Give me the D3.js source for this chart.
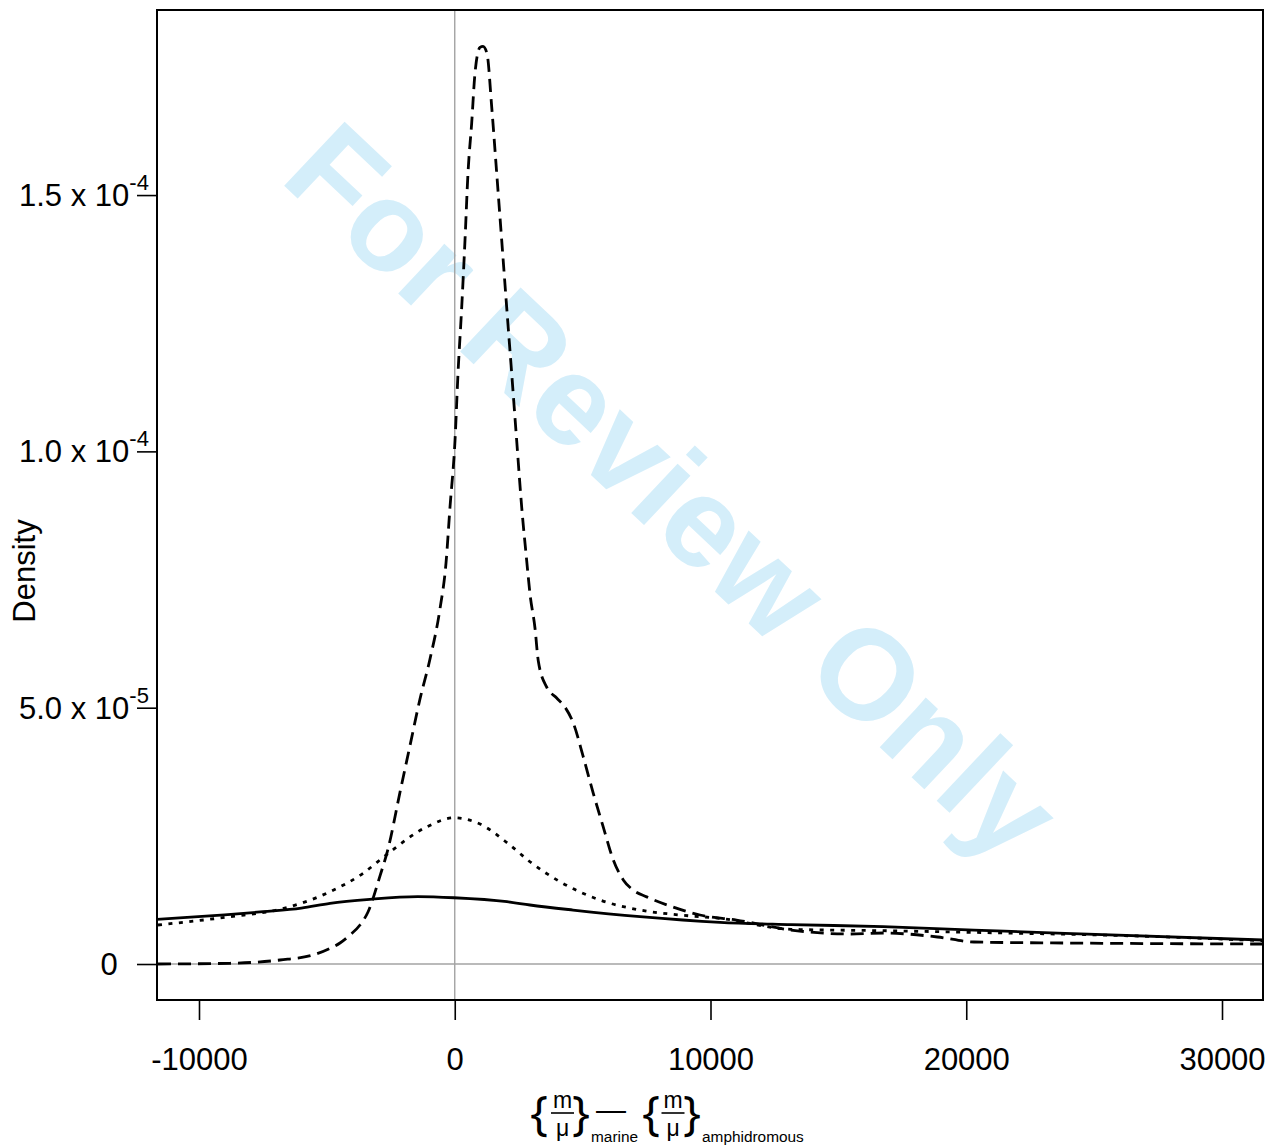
<!DOCTYPE html>
<html>
<head>
<meta charset="utf-8">
<script src="https://cdn.jsdelivr.net/npm/d3@7"></script>
<style>
  html, body { margin: 0; padding: 0; background: #fff; }
  svg { display: block; }
</style>
</head>
<body>
<svg id="chart" width="1268" height="1147"></svg>
<script>
// ---- data -------------------------------------------------------------
const xTicks = [-10000, 0, 10000, 20000, 30000];
const xTickLabels = ["-10000", "0", "10000", "20000", "30000"];
const yTicks = [0, 5e-5, 1e-4, 1.5e-4];
const yTickMantissa = ["0", "5.0 x 10", "1.0 x 10", "1.5 x 10"];
const yTickExponent = ["", "-5", "-4", "-4"];

// solid density curve
const solidX = [-11642, -9000, -7497, -6000, -4878, -3314, -1450, -29, 2043, 2942, 4624, 7243, 10371, 13148, 16745, 20303, 23861, 31603];
const solidDensity = [8.72e-6, 9.6e-6, 10.2e-6, 10.9e-6, 11.84e-6, 12.62e-6, 13.15e-6, 12.93e-6, 12.15e-6, 11.51e-6, 10.53e-6, 9.23e-6, 8.13e-6, 7.70e-6, 7.28e-6, 6.63e-6, 5.99e-6, 4.68e-6];

// dotted density curve
const dottedX = [-11603, -8788, -6833, -4878, -3588, -2650, -1085, -29, 987, 2160, 2942, 4115, 5679, 7243, 8807, 10371, 13148, 16745, 21006, 26716, 31603];
const dottedDensity = [7.61e-6, 9.23e-6, 10.67e-6, 14.1e-6, 17.69e-6, 21.4e-6, 26.78e-6, 28.54e-6, 27.3e-6, 23.2e-6, 19.95e-6, 16.05e-6, 12.48e-6, 10.53e-6, 9.56e-6, 8.91e-6, 6.77e-6, 6.5e-6, 6.1e-6, 5.46e-6, 4.54e-6];

// dashed density curve
const dashedX = [-11603, -8788, -6833, -5542, -4878, -4487, -4096, -3705, -3392, -2922, -2610, -2141, -1750, -1359, -968, -577, -342, -186, 10, 127, 272, 401, 518, 663, 792, 987, 1105, 1261, 1445, 1640, 1836, 2031, 2227, 2422, 2618, 2813, 2942, 3138, 3267, 3595, 3986, 4311, 4636, 5026, 5417, 5808, 6199, 6590, 6981, 7505, 8545, 9590, 11017, 13148, 15454, 16745, 18876, 20303, 23861, 31603];
const dashedDensity = [0, 0.14e-6, 0.78e-6, 1.76e-6, 3.06e-6, 4.1e-6, 5.66e-6, 7.61e-6, 10.14e-6, 17.2e-6, 22.43e-6, 33.5e-6, 42.6e-6, 51.7e-6, 59.5e-6, 69.3e-6, 78.2e-6, 89.1e-6, 102.1e-6, 115.2e-6, 128.1e-6, 141.2e-6, 154.3e-6, 164.1e-6, 173.8e-6, 178.8e-6, 179.0e-6, 177.6e-6, 167.2e-6, 154.3e-6, 141.2e-6, 128.1e-6, 115.2e-6, 102.1e-6, 89.1e-6, 78.7e-6, 72.2e-6, 65.5e-6, 59.1e-6, 54.0e-6, 51.9e-6, 50.1e-6, 47.0e-6, 40.4e-6, 33.3e-6, 26.7e-6, 20.3e-6, 16.4e-6, 14.4e-6, 13.1e-6, 11.1e-6, 9.56e-6, 8.58e-6, 6.63e-6, 5.85e-6, 6.05e-6, 5.27e-6, 4.29e-6, 4.1e-6, 3.9e-6];

// ---- layout -----------------------------------------------------------
const plot = { left: 157, right: 1263, top: 10, bottom: 1000 };
const svg = d3.select("#chart");

const x = d3.scaleLinear().domain([-11642, 31603]).range([plot.left, plot.right]);
const y = d3.scaleLinear().domain([-7.02e-6, 1.861e-4]).range([plot.bottom, plot.top]);

svg.append("rect").attr("width", 1268).attr("height", 1147).attr("fill", "#fff");

svg.append("defs").append("clipPath").attr("id", "plot-clip")
  .append("rect")
  .attr("x", plot.left).attr("y", plot.top)
  .attr("width", plot.right - plot.left).attr("height", plot.bottom - plot.top);

// review watermark
svg.append("text")
  .attr("transform", "translate(278,180) rotate(43.3)")
  .attr("font-family", "Liberation Sans, Arial, sans-serif")
  .attr("font-weight", "bold")
  .attr("font-size", 128)
  .attr("fill", "#d4eefa")
  .text("For Review Only");

const inner = svg.append("g").attr("clip-path", "url(#plot-clip)");

// reference lines at x = 0 and density = 0
inner.append("line")
  .attr("x1", x(0)).attr("x2", x(0))
  .attr("y1", plot.top).attr("y2", plot.bottom)
  .attr("stroke", "#a3a3a3").attr("stroke-width", 1.4);
inner.append("line")
  .attr("x1", plot.left).attr("x2", plot.right)
  .attr("y1", y(0)).attr("y2", y(0))
  .attr("stroke", "#a3a3a3").attr("stroke-width", 1.4);

const line = d3.line()
  .x(d => x(d[0]))
  .y(d => y(d[1]))
  .curve(d3.curveMonotoneX);

const series = [
  { xs: solidX, ys: solidDensity, dash: null },
  { xs: dottedX, ys: dottedDensity, dash: "4,6.5" },
  { xs: dashedX, ys: dashedDensity, dash: "13,7" }
];

series.forEach(s => {
  inner.append("path")
    .datum(d3.zip(s.xs, s.ys))
    .attr("d", line)
    .attr("fill", "none")
    .attr("stroke", "#000")
    .attr("stroke-width", 2.8)
    .attr("stroke-dasharray", s.dash);
});

// frame
svg.append("rect")
  .attr("x", plot.left).attr("y", plot.top)
  .attr("width", plot.right - plot.left).attr("height", plot.bottom - plot.top)
  .attr("fill", "none").attr("stroke", "#000").attr("stroke-width", 2);

// ---- x axis -----------------------------------------------------------
const xAxis = d3.axisBottom(x)
  .tickValues(xTicks)
  .tickFormat((d, i) => xTickLabels[i])
  .tickSize(20)
  .tickPadding(28);
const gx = svg.append("g").attr("transform", `translate(0,${plot.bottom})`).call(xAxis);
gx.select(".domain").remove();
gx.selectAll(".tick line").attr("stroke", "#000").attr("stroke-width", 1.6);
gx.selectAll(".tick text")
  .attr("font-family", "Liberation Sans, Arial, sans-serif")
  .attr("font-size", 31)
  .attr("fill", "#000");

// ---- y axis -----------------------------------------------------------
const yAxis = d3.axisLeft(y).tickValues(yTicks).tickSize(20).tickFormat("");
const gy = svg.append("g").attr("transform", `translate(${plot.left},0)`).call(yAxis);
gy.select(".domain").remove();
gy.selectAll(".tick line").attr("stroke", "#000").attr("stroke-width", 1.6);

yTicks.forEach((v, i) => {
  const t = svg.append("text")
    .attr("font-family", "Liberation Sans, Arial, sans-serif")
    .attr("font-size", 31)
    .attr("fill", "#000")
    .attr("y", y(v) + 11);
  if (yTickExponent[i] === "") {
    t.attr("x", 109).attr("text-anchor", "middle").text(yTickMantissa[i]);
  } else {
    t.attr("x", 19);
    t.append("tspan").text(yTickMantissa[i]);
    t.append("tspan")
      .attr("font-size", 22)
      .attr("dy", -16)
      .text(yTickExponent[i]);
  }
});

svg.append("text")
  .attr("transform", "translate(35,571) rotate(-90)")
  .attr("text-anchor", "middle")
  .attr("font-family", "Liberation Sans, Arial, sans-serif")
  .attr("font-size", 31)
  .attr("fill", "#000")
  .text("Density");

// ---- x axis title: {m/μ}marine — {m/μ}amphidromous ----------------------
// one text element, each glyph group placed with its own tspan
const title = svg.append("text")
  .attr("font-family", "Liberation Sans, Arial, sans-serif")
  .attr("fill", "#000");

function braceSpan(ch, xLeft) {
  title.append("tspan")
    .attr("x", xLeft).attr("y", 1130)
    .attr("font-family", "Open Sans, Lato, sans-serif")
    .attr("font-size", 48).attr("font-weight", 500)
    .text(ch);
}
function fractionSpans(cx) {
  title.append("tspan").attr("x", cx - 9.5).attr("y", 1108)
    .attr("font-size", 23).text("m");
  title.append("tspan").attr("x", cx - 6.5).attr("y", 1135.5)
    .attr("font-size", 23).text("μ");
}
function fractionBar(cx) {
  svg.append("line")
    .attr("x1", cx - 11.5).attr("x2", cx + 11.5)
    .attr("y1", 1113).attr("y2", 1113)
    .attr("stroke", "#000").attr("stroke-width", 1.6);
}

braceSpan("{", 530);
fractionSpans(562.5);
braceSpan("}", 572);
title.append("tspan").attr("x", 596).attr("y", 1120).attr("font-size", 30).text("—");
title.append("tspan").attr("x", 591).attr("y", 1142).attr("font-size", 15.4).text("marine");
braceSpan("{", 642);
fractionSpans(673);
braceSpan("}", 683);
title.append("tspan").attr("x", 702).attr("y", 1142).attr("font-size", 15.4).text("amphidromous");
fractionBar(562.5);
fractionBar(673);
</script>
</body>
</html>
